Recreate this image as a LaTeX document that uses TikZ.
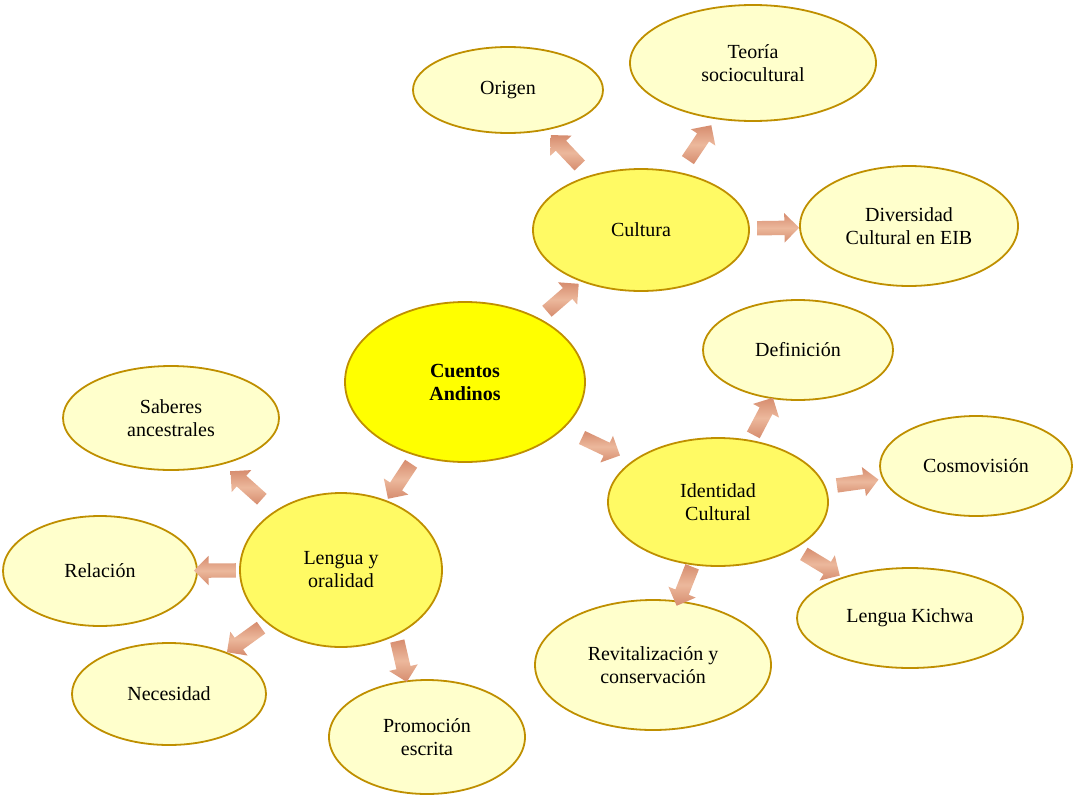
\documentclass[tikz,border=0pt]{standalone}
\usepackage{fontspec}
\setmainfont{Liberation Serif}
\usepackage{tikz}
\usetikzlibrary{shapes.geometric,shapes.arrows}

\definecolor{borde}{RGB}{191,143,0}
\definecolor{centro}{RGB}{255,255,0}
\definecolor{medio}{RGB}{255,250,100}
\definecolor{hoja}{RGB}{255,255,204}
\definecolor{flechaA}{RGB}{236,184,156}
\definecolor{flechaB}{RGB}{214,140,110}

\begin{document}
\begin{tikzpicture}[
  x=1pt, y=-1pt,
  elip/.style={ellipse, draw=borde, line width=1.8pt, inner sep=0pt, align=center,
               font=\fontsize{20}{23}\selectfont},
  raiz/.style={elip, fill=centro, font=\fontsize{20}{23}\selectfont\bfseries},
  rama/.style={elip, fill=medio},
  hojita/.style={elip, fill=hoja},
  flecha/.style={single arrow, sloped, allow upside down, pos=0.5, draw=none, inner sep=7pt,
                 minimum width=0pt, minimum height=42pt, single arrow head extend=7.5pt,
                 top color=flechaB, bottom color=flechaB, middle color=flechaA}
]
\useasboundingbox (0,0) rectangle (1075,798);

% nodo central y ramas
\node[raiz, minimum width=240pt, minimum height=160pt] (cuentos) at (465,382) {Cuentos\\Andinos};
\node[rama, minimum width=216pt, minimum height=122pt] (cultura) at (641,230) {Cultura};
\node[rama, minimum width=220pt, minimum height=128pt] (identidad) at (718,502) {Identidad\\Cultural};
\node[rama, minimum width=202pt, minimum height=154pt] (lengua) at (341,570) {Lengua y\\oralidad};

% hojas de Cultura
\node[hojita, minimum width=190pt, minimum height=86pt]  (origen) at (508,90) {Origen};
\node[hojita, minimum width=246pt, minimum height=116pt] (teoria) at (753,63) {Teoría\\sociocultural};
\node[hojita, minimum width=218pt, minimum height=120pt] (diversidad) at (909,226) {Diversidad\\Cultural en EIB};

% hojas de Identidad
\node[hojita, minimum width=190pt, minimum height=100pt] (definicion) at (798,350) {Definición};
\node[hojita, minimum width=192pt, minimum height=100pt] (cosmo) at (976,466) {Cosmovisión};
\node[hojita, minimum width=226pt, minimum height=100pt] (kichwa) at (910,618) {Lengua Kichwa};
\node[hojita, minimum width=236pt, minimum height=130pt] (revital) at (653,665) {Revitalización y\\conservación};

% hojas de Lengua
\node[hojita, minimum width=216pt, minimum height=104pt] (saberes) at (171,418) {Saberes\\ancestrales};
\node[hojita, minimum width=194pt, minimum height=110pt] (relacion) at (100,571) {Relación};
\node[hojita, minimum width=194pt, minimum height=102pt] (necesidad) at (169,694) {Necesidad};
\node[hojita, minimum width=196pt, minimum height=114pt] (promocion) at (427,737) {Promoción\\escrita};

% flechas
\path (cuentos) -- (cultura) node[flecha] {};
\path (cuentos) -- (identidad) node[flecha] {};
\path (cuentos) -- (lengua) node[flecha] {};
\path (cultura) -- (origen) node[flecha] {};
\path (cultura) -- (teoria) node[flecha] {};
\path (cultura) -- (diversidad) node[flecha] {};
\path (identidad) -- (definicion) node[flecha] {};
\path (identidad) -- (cosmo) node[flecha] {};
\path (identidad) -- (kichwa) node[flecha] {};
\path (identidad) -- (revital) node[flecha] {};
\path (lengua) -- (saberes) node[flecha] {};
\path (lengua) -- (relacion) node[flecha] {};
\path (lengua) -- (necesidad) node[flecha] {};
\path (lengua.-50) -- (promocion.110) node[flecha] {};
\end{tikzpicture}
\end{document}
